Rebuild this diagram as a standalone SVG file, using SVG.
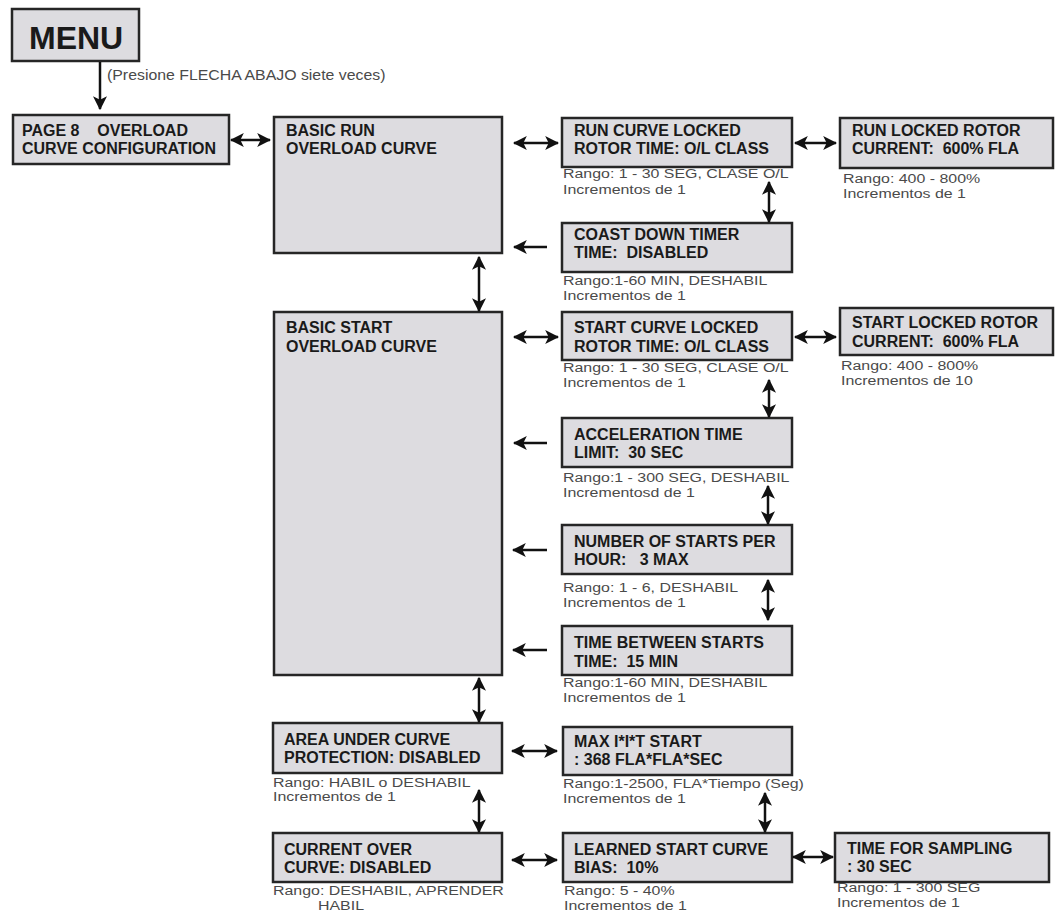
<svg xmlns="http://www.w3.org/2000/svg" width="1058" height="913" viewBox="0 0 1058 913">
<style>
.box{fill:#dddce0;stroke:#262626;stroke-width:2.5}
.t{font-family:"Liberation Sans",Arial,sans-serif;font-weight:bold;font-size:16px;fill:#1a1a1a;white-space:pre}
.n{font-family:"Liberation Sans",Arial,sans-serif;font-size:13.5px;fill:#4a4a4a}
.c line{stroke:#111;stroke-width:2.5;fill:none}
.d{marker-start:url(#ah);marker-end:url(#ah)}
.s{marker-end:url(#ah)}
</style>
<defs>
<marker id="ah" viewBox="0 0 12 12" refX="11" refY="6" markerWidth="14" markerHeight="14" markerUnits="userSpaceOnUse" orient="auto-start-reverse">
<path d="M0,0 L12,6 L0,12 L3,6 z" fill="#111"/>
</marker>
</defs>
<rect width="1058" height="913" fill="#ffffff"/>

<g id="menu"><rect class="box" x="12" y="9" width="127" height="52"/><text x="29" y="49" style="font-family:'Liberation Sans',Arial,sans-serif;font-weight:bold;font-size:32px;fill:#1a1a1a">MENU</text></g>
<g id="page8"><rect class="box" x="13" y="115" width="216" height="49"/><text class="t" x="22" y="136" xml:space="preserve">PAGE 8    OVERLOAD</text><text class="t" x="22" y="154">CURVE CONFIGURATION</text></g>
<g id="basicRun"><rect class="box" x="274" y="117" width="228" height="136"/><text class="t" x="286" y="136">BASIC RUN</text><text class="t" x="286" y="154">OVERLOAD CURVE</text></g>
<g id="runCurve"><rect class="box" x="562" y="118" width="230" height="49"/><text class="t" x="574" y="136">RUN CURVE LOCKED</text><text class="t" x="574" y="154">ROTOR TIME: O/L CLASS</text><text class="n" transform="translate(563,178) scale(1.18,1)">Rango: 1 - 30 SEG, CLASE O/L</text><text class="n" transform="translate(563,194) scale(1.18,1)">Incrementos de 1</text></g>
<g id="runLocked"><rect class="box" x="840" y="118" width="213" height="50"/><text class="t" x="852" y="136">RUN LOCKED ROTOR</text><text class="t" x="852" y="154" xml:space="preserve">CURRENT:  600% FLA</text><text class="n" transform="translate(843,183) scale(1.18,1)">Rango: 400 - 800%</text><text class="n" transform="translate(843,198) scale(1.18,1)">Incrementos de 1</text></g>
<g id="coast"><rect class="box" x="562" y="223" width="230" height="49"/><text class="t" x="574" y="240">COAST DOWN TIMER</text><text class="t" x="574" y="258" xml:space="preserve">TIME:  DISABLED</text><text class="n" transform="translate(563,285) scale(1.18,1)">Rango:1-60 MIN, DESHABIL</text><text class="n" transform="translate(563,300) scale(1.18,1)">Incrementos de 1</text></g>
<g id="basicStart"><rect class="box" x="274" y="312" width="228" height="363"/><text class="t" x="286" y="333">BASIC START</text><text class="t" x="286" y="352">OVERLOAD CURVE</text></g>
<g id="startCurve"><rect class="box" x="562" y="312" width="230" height="48"/><text class="t" x="574" y="333">START CURVE LOCKED</text><text class="t" x="574" y="352">ROTOR TIME: O/L CLASS</text><text class="n" transform="translate(563,372) scale(1.18,1)">Rango: 1 - 30 SEG, CLASE O/L</text><text class="n" transform="translate(563,387) scale(1.18,1)">Incrementos de 1</text></g>
<g id="startLocked"><rect class="box" x="840" y="308" width="213" height="47"/><text class="t" x="852" y="328">START LOCKED ROTOR</text><text class="t" x="852" y="347" xml:space="preserve">CURRENT:  600% FLA</text><text class="n" transform="translate(841,370) scale(1.18,1)">Rango: 400 - 800%</text><text class="n" transform="translate(841,385) scale(1.18,1)">Incrementos de 10</text></g>
<g id="accel"><rect class="box" x="562" y="418" width="230" height="49"/><text class="t" x="574" y="440">ACCELERATION TIME</text><text class="t" x="574" y="458" xml:space="preserve">LIMIT:  30 SEC</text><text class="n" transform="translate(563,482) scale(1.18,1)">Rango:1 - 300 SEG, DESHABIL</text><text class="n" transform="translate(563,497) scale(1.18,1)">Incrementosd de 1</text></g>
<g id="numStarts"><rect class="box" x="562" y="525" width="230" height="49"/><text class="t" x="574" y="547">NUMBER OF STARTS PER</text><text class="t" x="574" y="565" xml:space="preserve">HOUR:   3 MAX</text><text class="n" transform="translate(563,592) scale(1.18,1)">Rango: 1 - 6, DESHABIL</text><text class="n" transform="translate(563,607) scale(1.18,1)">Incrementos de 1</text></g>
<g id="timeBetween"><rect class="box" x="562" y="626" width="230" height="49"/><text class="t" x="574" y="648">TIME BETWEEN STARTS</text><text class="t" x="574" y="667" xml:space="preserve">TIME:  15 MIN</text><text class="n" transform="translate(563,687) scale(1.18,1)">Rango:1-60 MIN, DESHABIL</text><text class="n" transform="translate(563,702) scale(1.18,1)">Incrementos de 1</text></g>
<g id="area"><rect class="box" x="273" y="723" width="229" height="50"/><text class="t" x="284" y="745">AREA UNDER CURVE</text><text class="t" x="284" y="763">PROTECTION: DISABLED</text><text class="n" transform="translate(273,787) scale(1.18,1)">Rango: HABIL o DESHABIL</text><text class="n" transform="translate(273,801) scale(1.18,1)">Incrementos de 1</text></g>
<g id="maxIIT"><rect class="box" x="563" y="727" width="229" height="48"/><text class="t" x="574" y="747">MAX I*I*T START</text><text class="t" x="574" y="765">: 368 FLA*FLA*SEC</text><text class="n" transform="translate(563,788) scale(1.18,1)">Rango:1-2500, FLA*Tiempo (Seg)</text><text class="n" transform="translate(563,803) scale(1.18,1)">Incrementos de 1</text></g>
<g id="currentOver"><rect class="box" x="273" y="833" width="229" height="49"/><text class="t" x="284" y="855">CURRENT OVER</text><text class="t" x="284" y="873">CURVE: DISABLED</text><text class="n" transform="translate(273,895) scale(1.18,1)">Rango: DESHABIL, APRENDER</text><text class="n" transform="translate(318,910) scale(1.18,1)">HABIL</text></g>
<g id="learned"><rect class="box" x="563" y="833" width="229" height="49"/><text class="t" x="574" y="855">LEARNED START CURVE</text><text class="t" x="574" y="873" xml:space="preserve">BIAS:  10%</text><text class="n" transform="translate(564,895) scale(1.18,1)">Rango: 5 - 40%</text><text class="n" transform="translate(564,910) scale(1.18,1)">Incrementos de 1</text></g>
<g id="timeSampling"><rect class="box" x="835" y="833" width="214" height="49"/><text class="t" x="847" y="854">TIME FOR SAMPLING</text><text class="t" x="847" y="872">: 30 SEC</text><text class="n" transform="translate(837,892) scale(1.18,1)">Rango: 1 - 300 SEG</text><text class="n" transform="translate(837,907) scale(1.18,1)">Incrementos de 1</text></g>

<g id="connectors" class="c">
<line class="s" x1="100" y1="62" x2="100" y2="109"/>
<text transform="translate(107,80) scale(1.15,1)" style="font-family:'Liberation Sans',Arial,sans-serif;font-size:13.8px;fill:#4a4a4a">(Presione FLECHA ABAJO siete veces)</text>
<line class="d" x1="231" y1="140" x2="270" y2="140"/>
<line class="d" x1="514" y1="143" x2="558" y2="143"/>
<line class="d" x1="795" y1="143" x2="836" y2="143"/>
<line class="d" x1="769" y1="182" x2="769" y2="222"/>
<line class="s" x1="547" y1="247" x2="514" y2="247"/>
<line class="d" x1="479" y1="257" x2="479" y2="311"/>
<line class="d" x1="514" y1="337" x2="558" y2="337"/>
<line class="d" x1="795" y1="337" x2="836" y2="337"/>
<line class="d" x1="769" y1="380" x2="769" y2="417"/>
<line class="s" x1="547" y1="443" x2="514" y2="443"/>
<line class="d" x1="768" y1="486" x2="768" y2="524"/>
<line class="s" x1="547" y1="550" x2="513" y2="550"/>
<line class="d" x1="768" y1="580" x2="768" y2="620"/>
<line class="s" x1="547" y1="650" x2="513" y2="650"/>
<line class="d" x1="479" y1="678" x2="479" y2="722"/>
<line class="d" x1="512" y1="751" x2="557" y2="751"/>
<line class="d" x1="479" y1="790" x2="479" y2="832"/>
<line class="d" x1="765" y1="793" x2="765" y2="832"/>
<line class="d" x1="512" y1="860" x2="557" y2="860"/>
<line class="d" x1="793" y1="857" x2="833" y2="857"/>
</g>
</svg>
